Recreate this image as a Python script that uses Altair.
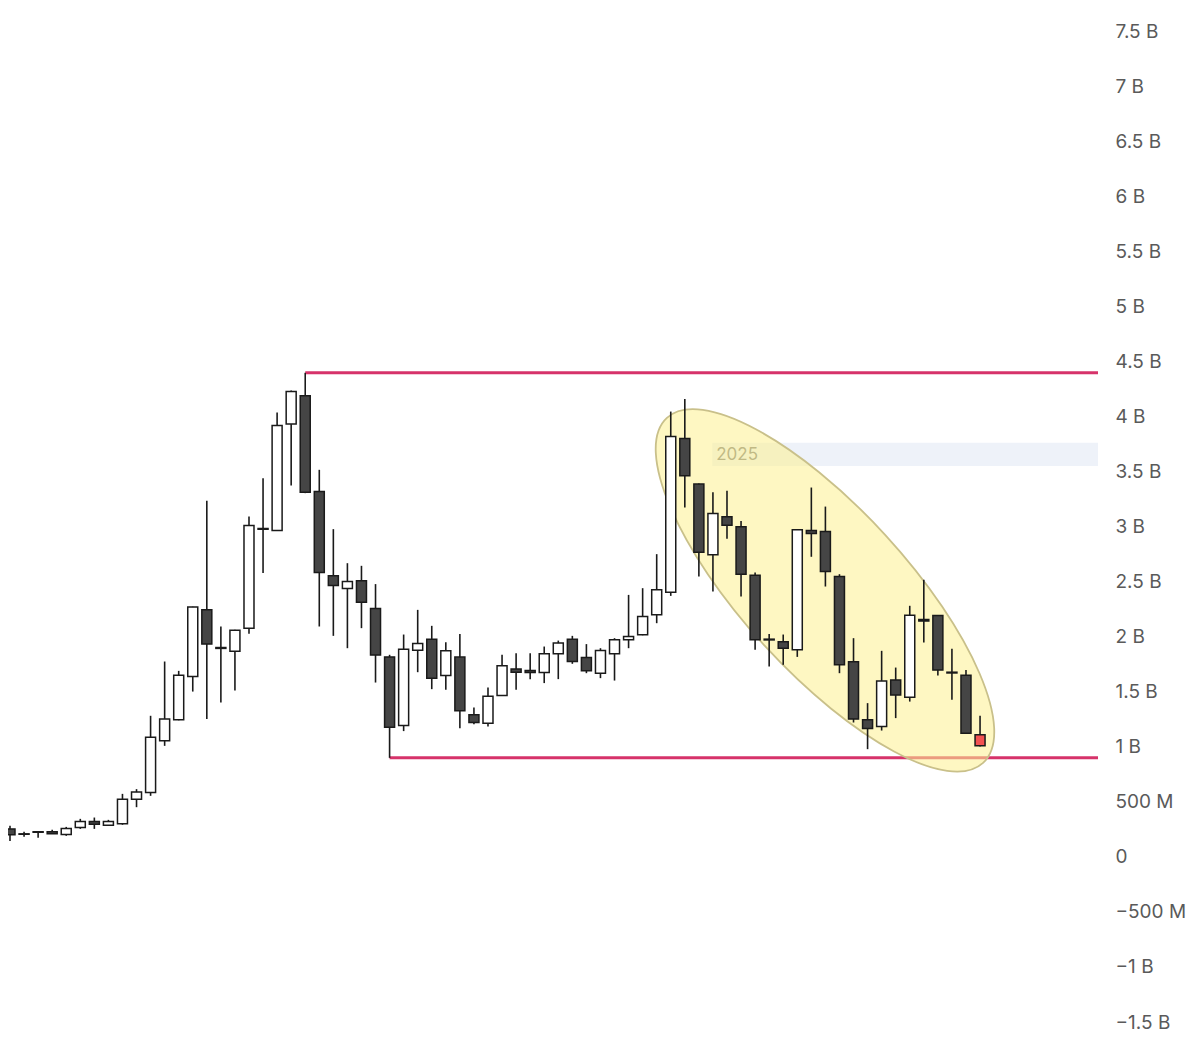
import altair as alt
import pandas as pd

# OHLC values in billions
opens = [0.254, 0.209, 0.227, 0.227, 0.203, 0.266, 0.321, 0.288, 0.300, 0.524,
         0.584, 1.054, 1.244, 1.637, 2.243, 1.901, 1.868, 2.077, 2.982, 2.963,
         3.930, 4.187, 3.318, 2.552, 2.437, 2.507, 2.255, 1.816, 1.192, 1.877,
         1.977, 1.647, 1.814, 1.290, 1.214, 1.465, 1.705, 1.692, 1.674, 1.844,
         1.977, 1.810, 1.668, 1.844, 1.971, 2.016, 2.198, 2.404, 3.799, 3.385,
         2.743, 3.088, 2.997, 2.558, 1.977, 1.953, 1.880, 2.963, 2.954, 2.546,
         1.771, 1.244, 1.183, 1.607, 1.450, 2.155, 2.191, 1.677, 1.650, 1.108]
highs = [0.282, 0.227, 0.227, 0.245, 0.272, 0.345, 0.357, 0.336, 0.572, 0.615,
         1.281, 1.774, 1.689, 2.272, 3.233, 2.092, 2.063, 3.091, 3.439, 4.035,
         4.235, 4.396, 3.515, 2.976, 2.667, 2.643, 2.477, 1.835, 2.019, 2.243,
         2.098, 1.950, 2.023, 1.356, 1.538, 1.835, 1.850, 1.850, 1.910, 1.964,
         2.007, 1.932, 1.895, 1.986, 2.379, 2.440, 2.749, 4.044, 4.159, 3.390,
         3.312, 3.324, 3.051, 2.582, 2.023, 2.019, 2.975, 3.354, 3.181, 2.567,
         1.986, 1.396, 1.871, 1.719, 2.280, 2.516, 2.196, 1.889, 1.696, 1.281]
lows = [0.145, 0.182, 0.173, 0.209, 0.191, 0.254, 0.254, 0.282, 0.291, 0.451,
        0.554, 1.008, 1.240, 1.501, 1.251, 1.401, 1.510, 2.025, 2.577, 2.960,
        3.372, 3.303, 2.092, 2.007, 1.895, 2.077, 1.583, 0.899, 1.142, 1.677,
        1.523, 1.517, 1.169, 1.205, 1.183, 1.462, 1.517, 1.614, 1.578, 1.614,
        1.753, 1.668, 1.623, 1.601, 1.895, 2.012, 2.122, 2.370, 3.172, 2.546,
        2.409, 2.888, 2.364, 1.880, 1.728, 1.744, 1.816, 2.725, 2.455, 1.668,
        1.220, 0.978, 1.147, 1.260, 1.410, 1.946, 1.647, 1.426, 1.120, 1.002]
closes = [0.200, 0.205, 0.223, 0.209, 0.257, 0.321, 0.297, 0.321, 0.524, 0.588,
          1.087, 1.253, 1.650, 2.268, 1.932, 1.893, 2.059, 3.009, 2.975, 3.917,
          4.226, 3.312, 2.582, 2.464, 2.500, 2.313, 1.832, 1.178, 1.886, 1.937,
          1.623, 1.871, 1.326, 1.220, 1.459, 1.735, 1.677, 1.674, 1.844, 1.941,
          1.774, 1.689, 1.874, 1.971, 2.001, 2.182, 2.425, 3.817, 3.460, 2.767,
          3.118, 3.012, 2.567, 1.971, 1.970, 1.895, 2.970, 2.936, 2.591, 1.744,
          1.251, 1.165, 1.598, 1.469, 2.195, 2.141, 1.696, 1.670, 1.123, 1.008]

# Axis ticks (billions) and their labels
tick_values = [7.5, 7, 6.5, 6, 5.5, 5, 4.5, 4, 3.5, 3, 2.5, 2, 1.5, 1, 0.5, 0, -0.5, -1, -1.5]
tick_labels = ["7.5 B", "7 B", "6.5 B", "6 B", "5.5 B", "5 B", "4.5 B", "4 B", "3.5 B",
               "3 B", "2.5 B", "2 B", "1.5 B", "1 B", "500 M", "0", "\u2212500 M",
               "\u22121 B", "\u22121.5 B"]

# Annotations
level_values = [4.396, 0.899]      # horizontal resistance / support
level_starts = [21, 27]            # candle index where each level starts
band_label = ["2025"]
band_x = [49.95]
band_y = [3.55]
band_y2 = [3.76]
ellipse_x = [57.97]
ellipse_y = [2.42]

x_dom = [-0.142, 77.39]
y_dom = [-1.736, 7.709]

n = len(opens)
df = pd.DataFrame({"i": list(range(n)), "open": opens, "high": highs,
                   "low": lows, "close": closes})

xs = alt.Scale(domain=x_dom, nice=False, zero=False, padding=0)
ys = alt.Scale(domain=y_dom, nice=False, zero=False, padding=0)

lab_expr = "[" + ",".join("'" + s + "'" for s in tick_labels) + "][indexof([" + \
    ",".join(str(v) for v in tick_values) + "], datum.value)]"

base = alt.Chart(df)

band_df = pd.DataFrame({"x": band_x, "x2": [x_dom[1]], "y": band_y, "y2": band_y2,
                        "label": band_label})
band = alt.Chart(band_df).mark_rect(color="#eef2f9").encode(
    x=alt.X("x:Q", scale=xs, axis=None), x2="x2:Q",
    y=alt.Y("y:Q", scale=ys), y2="y2:Q")
band_text = alt.Chart(band_df).mark_text(
    align="left", baseline="middle", dx=4, dy=1, fontSize=17, font="Inter", color="#777777"
).encode(x=alt.X("x:Q", scale=xs, axis=None),
         y=alt.Y("ym:Q", scale=ys),
         text="label:N").transform_calculate(ym="(datum.y + datum.y2) / 2")

lv_df = pd.DataFrame({"x": level_starts, "x2": [x_dom[1]] * 2, "y": level_values})
levels = alt.Chart(lv_df).mark_rule(color="#d6336a", strokeWidth=3).encode(
    x=alt.X("x:Q", scale=xs, axis=None), x2="x2:Q", y=alt.Y("y:Q", scale=ys))

ell_df = pd.DataFrame({"x": ellipse_x, "y": ellipse_y})
ellipse = alt.Chart(ell_df).mark_point(
    shape="M -1 0 A 1 0.35 0 1 1 1 0 A 1 0.35 0 1 1 -1 0 Z",
    filled=True, fill="#fdf090", fillOpacity=0.55, stroke="#c9c08a",
    strokeWidth=1.8, strokeOpacity=1, opacity=1, size=468 * 468, angle=47.5
).encode(x=alt.X("x:Q", scale=xs, axis=None), y=alt.Y("y:Q", scale=ys))

wicks = base.mark_rule(color="#1a1a1a", strokeWidth=1.6).encode(
    x=alt.X("i:Q", scale=xs, axis=None),
    y=alt.Y("low:Q", scale=ys), y2="high:Q")

bodies = base.mark_bar(size=10, stroke="#1a1a1a", strokeWidth=1.5).encode(
    x=alt.X("i:Q", scale=xs, axis=None),
    y=alt.Y("open:Q", scale=ys,
            axis=alt.Axis(orient="right", values=tick_values, labelExpr=lab_expr,
                          grid=False, ticks=False, domain=False, labelPadding=17,
                          labelFontSize=19, labelFont="Inter", labelColor="#5a5a5a",
                          title=None, labelBaseline="middle")),
    y2="close:Q",
    fill=alt.Fill("col:N", scale=None)
).transform_calculate(
    col=f"datum.i == {n - 1} ? '#f25252' : (datum.close >= datum.open ? '#ffffff' : '#454545')"
)

chart = alt.layer(band, band_text, levels, ellipse, wicks, bodies).properties(
    width=1090, height=1040, background="white",
    autosize=alt.AutoSizeParams(type="none"),
    padding={"left": 0, "top": 0, "right": 90, "bottom": 0}
).configure_view(strokeWidth=0, stroke=None)

chart.save("out.html", embed_options={"renderer": "svg", "actions": False})
